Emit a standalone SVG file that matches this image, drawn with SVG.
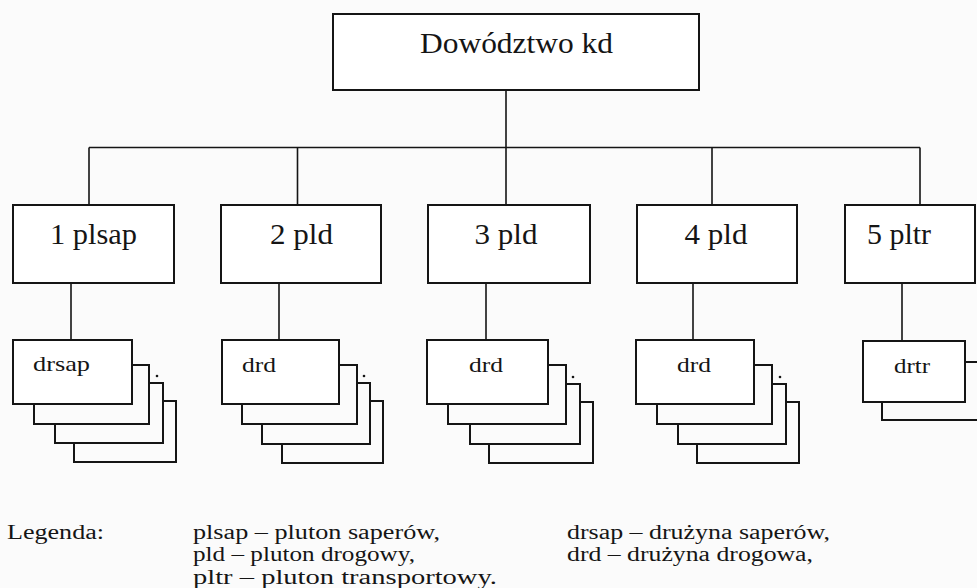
<svg xmlns="http://www.w3.org/2000/svg" width="977" height="588" viewBox="0 0 977 588">
<style>
.bx{fill:#fff;stroke:#151515;stroke-width:2}
.bk{fill:none;stroke:#151515;stroke-width:2}
.ln{fill:none;stroke:#151515;stroke-width:1.6}
.t{font-family:"Liberation Serif","Times New Roman",serif;fill:#151515}
.big{font-size:30px;text-anchor:middle}
.sm{font-size:22px}
.lg{font-size:20.5px}
.dot{fill:#151515}
</style>
<rect x="0" y="0" width="977" height="588" fill="#fbfbfb"/>
<g id="connectors">
<path class="ln" d="M89,147.5 H920 M506,90 V205 M89,147.5 V205 M297.5,147.5 V205 M712,147.5 V205 M920,147.5 V205"/>
<path class="ln" d="M71,283 V340 M279,283 V340 M486,283 V340 M693,283 V340 M902,283 V341"/>
</g>
<g id="dowodztwo">
<rect class="bx" x="333" y="14" width="366" height="76"/>
<text class="t big" x="516.5" y="53" textLength="193" lengthAdjust="spacingAndGlyphs">Dowództwo kd</text>
</g>
<g id="plsap1">
<rect class="bx" x="13" y="205" width="161" height="78"/>
<text class="t big" x="93.5" y="244" textLength="87" lengthAdjust="spacingAndGlyphs">1 plsap</text>
</g>
<g id="pld2">
<rect class="bx" x="221" y="205" width="160" height="78"/>
<text class="t big" x="301.5" y="244" textLength="63" lengthAdjust="spacingAndGlyphs">2 pld</text>
</g>
<g id="pld3">
<rect class="bx" x="428" y="205" width="162" height="78"/>
<text class="t big" x="506" y="244" textLength="63" lengthAdjust="spacingAndGlyphs">3 pld</text>
</g>
<g id="pld4">
<rect class="bx" x="637" y="205" width="160" height="78"/>
<text class="t big" x="716" y="244" textLength="63" lengthAdjust="spacingAndGlyphs">4 pld</text>
</g>
<g id="pltr5">
<rect class="bx" x="845" y="205" width="130" height="78"/>
<text class="t big" x="899" y="244" textLength="64" lengthAdjust="spacingAndGlyphs">5 pltr</text>
</g>
<g id="drsap">
<rect class="bx" x="13" y="340" width="119" height="64"/>
<path class="bk" d="M132,365 H149 V424 H34 V404 M149,383 H163 V443 H55 V424 M163,401 H176 V462 H74 V443"/>
<circle class="dot" cx="157" cy="376" r="1.3"/>
<text class="t sm" x="33" y="371" textLength="57" lengthAdjust="spacingAndGlyphs">drsap</text>
</g>
<g id="drd2">
<rect class="bx" x="222" y="340" width="117" height="64"/>
<path class="bk" d="M339,365 H357 V424 H242 V404 M357,383 H370 V444 H262 V424 M370,401 H383 V463 H282 V444"/>
<circle class="dot" cx="364" cy="376" r="1.3"/>
<text class="t sm" x="242" y="372" textLength="34" lengthAdjust="spacingAndGlyphs">drd</text>
</g>
<g id="drd3">
<rect class="bx" x="427" y="340" width="121" height="64"/>
<path class="bk" d="M548,365 H566 V424 H448 V404 M566,384 H580 V444 H470 V424 M580,402 H593 V463 H489 V444"/>
<circle class="dot" cx="573" cy="377" r="1.3"/>
<text class="t sm" x="469" y="372" textLength="34" lengthAdjust="spacingAndGlyphs">drd</text>
</g>
<g id="drd4">
<rect class="bx" x="636" y="340" width="118" height="64"/>
<path class="bk" d="M754,365 H772 V424 H657 V404 M772,384 H786 V444 H678 V424 M786,402 H799 V463 H697 V444"/>
<circle class="dot" cx="780" cy="377" r="1.3"/>
<text class="t sm" x="677" y="372" textLength="34" lengthAdjust="spacingAndGlyphs">drd</text>
</g>
<g id="drtr">
<rect class="bx" x="863" y="341" width="102" height="61"/>
<path class="bk" d="M965,362 H985 V420 H882 V402"/>
<text class="t sm" x="894" y="373" textLength="36" lengthAdjust="spacingAndGlyphs">drtr</text>
</g>
<g id="legend">
<text class="t lg" x="7" y="538.5" textLength="97" lengthAdjust="spacingAndGlyphs">Legenda:</text>
<text class="t lg" x="193" y="538.5" textLength="247" lengthAdjust="spacingAndGlyphs">plsap – pluton saperów,</text>
<text class="t lg" x="193" y="561.3" textLength="222" lengthAdjust="spacingAndGlyphs">pld – pluton drogowy,</text>
<text class="t lg" x="193" y="584" textLength="304" lengthAdjust="spacingAndGlyphs">pltr – pluton transportowy.</text>
<text class="t lg" x="567" y="538.5" textLength="263" lengthAdjust="spacingAndGlyphs">drsap – drużyna saperów,</text>
<text class="t lg" x="567" y="561.3" textLength="246" lengthAdjust="spacingAndGlyphs">drd – drużyna drogowa,</text>
</g>
</svg>
